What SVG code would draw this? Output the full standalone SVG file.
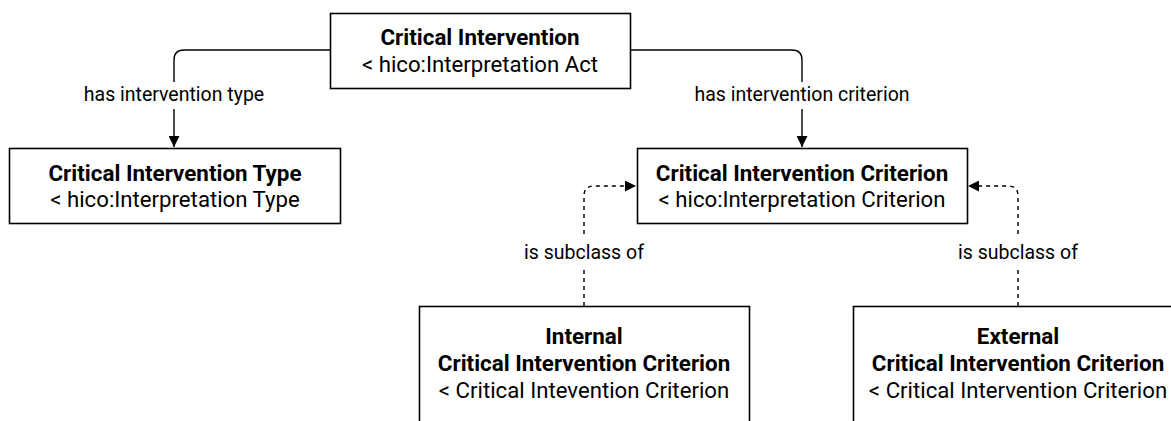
<svg xmlns="http://www.w3.org/2000/svg" width="1171" height="421" viewBox="0 0 1171 421">
  <defs>
    <marker id="arrow" viewBox="0 0 10 10" refX="10" refY="5" markerWidth="11" markerHeight="11" markerUnits="userSpaceOnUse" orient="auto">
      <path d="M0,0 L10,5 L0,10 Z" fill="#000"/>
    </marker>
    <style>
      .box { fill: #fff; stroke: #000; stroke-width: 1.6; }
      .title { font-family: Roboto, "Liberation Sans", sans-serif; font-size: 22.4px; font-weight: bold; text-anchor: middle; fill: #000; }
      .sub { font-family: Roboto, "Liberation Sans", sans-serif; font-size: 22.2px; text-anchor: middle; fill: #000; }
      .edge { fill: none; stroke: #000; stroke-width: 1.4; marker-end: url(#arrow); }
      .dashed { stroke-dasharray: 4 4; }
      .lbl { font-family: Roboto, "Liberation Sans", sans-serif; font-size: 19.5px; text-anchor: middle; fill: #000; }
      .lblbg { fill: #fff; }
    </style>
  </defs>

  <!-- connectors -->
  <g id="connectors">
    <path class="edge" d="M330,50 H184 Q174,50 174,60 V147"/>
    <path class="edge" d="M630,50 H792 Q802,50 802,60 V147"/>
    <path class="edge dashed" d="M584,306 V196 Q584,186 594,186 H636"/>
    <path class="edge dashed" d="M1018,306 V196 Q1018,186 1008,186 H968"/>

    <rect class="lblbg" x="80" y="82" width="190" height="27"/>
    <text class="lbl" x="174" y="101">has intervention type</text>
    <rect class="lblbg" x="690" y="82" width="224" height="27"/>
    <text class="lbl" x="802" y="101">has intervention criterion</text>
    <rect class="lblbg" x="520" y="238" width="128" height="28"/>
    <text class="lbl" x="584" y="259">is subclass of</text>
    <rect class="lblbg" x="954" y="238" width="128" height="28"/>
    <text class="lbl" x="1018" y="259">is subclass of</text>
  </g>

  <!-- nodes -->
  <g id="critical-intervention">
    <rect class="box" x="330.5" y="13.5" width="300" height="75"/>
    <text class="title" x="480" y="45">Critical Intervention</text>
    <text class="sub" x="480" y="72">&lt; hico:Interpretation Act</text>
  </g>

  <g id="critical-intervention-type">
    <rect class="box" x="9.5" y="148.5" width="331" height="75"/>
    <text class="title" x="175" y="180.5">Critical Intervention Type</text>
    <text class="sub" x="175" y="207">&lt; hico:Interpretation Type</text>
  </g>

  <g id="critical-intervention-criterion">
    <rect class="box" x="637.5" y="148.5" width="330" height="75"/>
    <text class="title" x="802" y="180.5">Critical Intervention Criterion</text>
    <text class="sub" x="802" y="207">&lt; hico:Interpretation Criterion</text>
  </g>

  <g id="internal-criterion">
    <rect class="box" x="419.5" y="306.5" width="330" height="130"/>
    <text class="title" x="584" y="343.5">Internal</text>
    <text class="title" x="584" y="370.5">Critical Intervention Criterion</text>
    <text class="sub" x="584" y="398">&lt; Critical Intevention Criterion</text>
  </g>

  <g id="external-criterion">
    <rect class="box" x="853.5" y="306.5" width="330" height="130"/>
    <text class="title" x="1018" y="343.5">External</text>
    <text class="title" x="1018" y="370.5">Critical Intervention Criterion</text>
    <text class="sub" x="1018" y="398">&lt; Critical Intervention Criterion</text>
  </g>
</svg>
